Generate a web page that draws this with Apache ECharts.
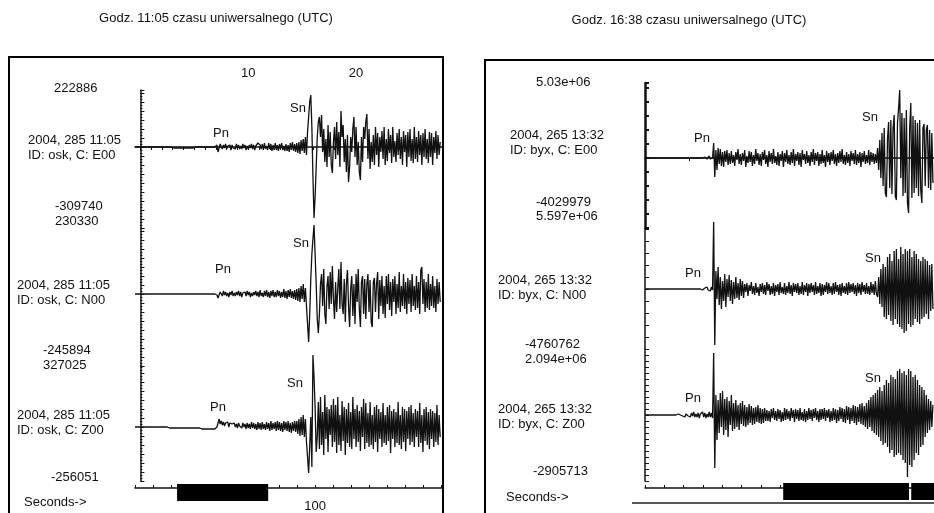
<!DOCTYPE html>
<html><head><meta charset="utf-8">
<script src="https://cdn.jsdelivr.net/npm/echarts@6/dist/echarts.min.js"></script>
<style>html,body{margin:0;padding:0;background:#fff}#c{width:934px;height:513px}</style>
</head><body><div id="c"></div>
<script>
// ---------- text ----------
const titles = ['Godz. 11:05 czasu uniwersalnego (UTC)', 'Godz. 16:38 czasu uniwersalnego (UTC)'];
const leftSideLabels = ['222886', '2004, 285 11:05', 'ID: osk, C: E00', '-309740', '230330',
  '2004, 285 11:05', 'ID: osk, C: N00', '-245894', '327025',
  '2004, 285 11:05', 'ID: osk, C: Z00', '-256051', 'Seconds->'];
const rightSideLabels = ['5.03e+06', '2004, 265 13:32', 'ID: byx, C: E00', '-4029979', '5.597e+06',
  '2004, 265 13:32', 'ID: byx, C: N00', '-4760762', '2.094e+06',
  '2004, 265 13:32', 'ID: byx, C: Z00', '-2905713', 'Seconds->'];
const phaseLabels = ['Pn', 'Sn', 'Pn', 'Sn', 'Pn', 'Sn'];

// ---------- axes ----------
const leftTopTicks = [0,1,2,3,4,5,6,7,8,9,10,11,12,13,14,15,16,17,18,19,20,21,22,23,24,25,26,27,28];
const leftTopTickLabels = [10, 20];
const leftBottomTickLabels = [100];

// ---------- sampling (seconds) ----------
const leftStart = -0.5, leftStep = 0.1;
const rightStart = 0, rightStep = 0.25;

// ---------- traces (scaled amplitude) ----------
const leftE = [
  0,0,0,0,0,0,0,0,0,0, 0,0,0,0,0,0,0,0,0,0, 0,0,0,0,0,0,0,0,0,0, 0,0,0,0,0,
  -1,-1,-1,-1,-1,-1,-1,-1,-1,-1, -1,-1,-1,-1,-1,-1,-1,-1,-1,-1, -1,
  0,0,0,0,0,0,0,0,0,0, 0,0,0,0,0,0,0,0,0,0,
  2,-5,-3,3,
  1,-2,2,-1,3,-2,1,-1,2,-3, 2,-1,1,-2,3,-1,2,-2,1,-2, 3,-1,2,-3,1,-2,2,-1,3,-2,
  2,-3,1,-1,4,3,2,-2,3,-3, 4,-2,1,-3,4,-2,3,-4,2,-3, 4,-3,2,-4,3,-2,4,-3,1,-4,
  3,-4,2,-5,4,-3,5,-4,3,-5,
  4,-6,5,-7,7,-4,8,-6,10,-8, 15,30,45,52,20,-30,-71,-50,-20,10, 25,30,10,
  32,-5,18,-15,8,-20,22,-10,15,-18, -26,5,20,-12,25,-8,15,-20,36,10,
  22,-15,8,-25,12,-35,-20,10,-5,18, 30,-10,20,-18,5,-25,-33,10,-15,20,
  8,25,33,-12,18,-22,5,-15,12,-18, 20,-8,14,-20,10,-5,16,-12,20,-18,
  8,-14,18,-6,12,-16,20,-10,6,-15, 14,-8,18,-12,10,-18,16,-5,12,-20,
  15,-10,18,-14,8,-16,20,-12,10,-15, 16,-8,12,-18,14,-10,18,-12,8,-16,
  15,-10,14,-18,10,-6,16,-12,12,-8,5
];
const leftN = [
  0,0,0,0,0,0,0,0,0,0, 0,0,0,0,0,0,0,0,0,0, 0,0,0,0,0,0,0,0,0,0, 0,0,0,0,0,0,0,0,0,0,
  0,0,0,0,0,0,0,0,0,0, 0,0,0,0,0,0,0,0,0,0, 0,0,0,0,0,0,0,0,0,0, 0,0,0,0,0,0,
  -1,-4,-2,2,
  1,-2,3,-1,2,-2,1,-3,2,-1, 3,-2,1,-2,2,-1,3,-2,2,-3, 1,-1,2,-2,3,-1,2,-3,1,-2,
  2,-1,3,-2,2,-3,4,-2,1,-3, 3,-2,4,-3,2,-4,3,-2,4,-3, 2,-3,4,-2,3,-4,2,-3,5,-4,
  3,-5,4,-3,5,-4,3,-5,4,-6,
  5,-7,6,-8,8,-5,10,-8,6,-12, -30,-48,-20,15,40,55,69,40,10,-25, -39,-20,10,
  20,-12,25,-20,-30,8,18,-15,22,-10, 28,-5,-25,12,-18,5,25,-15,32,-10,
  -20,15,-28,10,24,-12,-33,5,18,-22, 10,-30,20,-8,25,-15,-33,12,18,-20,
  15,-25,10,20,-18,14,-28,-33,12,16, -18,10,22,-25,14,-12,18,-20,8,-24,
  18,-10,20,-16,12,-22,15,-8,18,-20, 10,-14,22,-18,8,-12,20,-15,12,-20,
  16,-10,14,-18,20,-12,8,-16,18,-14, 12,-20,24,27,-10,15,-18,12,-14,20,
  -16,10,-12,18,-14,8,-18,15,-10,12,-8
];
const leftZ = [
  0,0,0,0,0,0,0,0,0,0, 0,0,0,0,0,0,0,0,0,0, 0,0,0,0,0,0,0,0,0,0, 0,
  -1,-1,-1,-1,-1,-1,-1,-1,-1,-1, -1,-1,-1,-1,-1,-1,-1,-1,-1,-1, -1,-1,-1,-1,-1,-1,-1,-1,-1,-1,
  -2,-2,-2,-2,-2,-2,-2,-2,-2,-2, -2,-2,-2,-2,-2,
  0,4,8,3,
  6,2,5,1,4,3,5,0,4,2, 3,1,4,0,3,-1,4,1,3,-1, 4,0,3,-2,4,-1,3,-2,5,-1,
  4,-2,3,-3,5,-2,4,-3,5,-2, 3,-3,5,-2,4,-4,6,-3,4,-2, 5,-4,6,-3,5,-4,4,-5,6,-3,
  5,-4,6,-5,4,-6,5,-4,6,-5,
  6,-7,8,-9,10,-8,12,-10,8,-15, -30,-46,-20,10,-40,72,50,20,-25,-10, 25,-22,30,
  -18,15,-28,32,-12,20,-25,18,-8,22, -20,28,-15,22,-26,30,-18,12,-24,26,
  -14,20,-28,18,-16,24,-20,15,-22,30, -12,18,-20,22,-15,16,-24,20,-10,28,
  -22,24,-16,14,-20,25,-18,12,-22,20, -15,22,-25,18,-12,15,-20,24,-16,12,
  -18,20,-14,22,-26,16,-12,18,-20,15, -16,25,-18,12,-22,20,-15,18,-24,16,
  -12,20,-18,22,-15,14,-20,18,-10,16, -20,24,-16,12,-25,18,-14,20,-18,15,
  -22,18,-12,16,-20,14,-15,22,-18,12,-10
];
const rightE = [
  0,0,0,0,0,0,0,0,0,0, 0,0,0,0,0,0,0,0,0,0, 0,0,0,0,0,0,0,0,0,0, 0,0,0,0,0,0,0,0,0,0, 0,0,0,0,0,0,0,0,0,0,
  0,1,0,-1,1,0,-1,1,2,-1,1,0,
  15,-19,8,-12,10,-6,9,-8,6,-9,7,-4,8,-7,5,-6,
  7,-5,3,-8,6,-2,9,-6,4,-7, 5,-3,8,-9,2,-5,7,-4,6,-8, 3,-6,9,-3,5,-7,4,-8,6,-2,
  8,-6,3,-9,7,-4,5,-6,9,-5, 2,-7,6,-8,4,-3,7,-9,5,-4, 8,-6,3,-7,6,-5,9,-8,4,-3,
  6,-7,5,-9,8,-2,4,-6,7,-5, 3,-8,6,-4,9,-7,5,-3,6,-8, 4,-6,8,-5,3,-9,7,-4,5,-7,
  6,-3,8,-6,4,-8,5,-5,7,-4, 9,-6,3,-7,6,-5,4,-8,7,-3, 5,-6,8,-7,4,-5,6,-9,5,-4,
  7,-6,3,-5,8,-7,6,-4,5,-6, 4,-5,
  10,-12,18,-20,25,-28,30,-35,-39,20, 36,-30,38,-36,30,43,-38,-42,35,50,
  68,-20,45,-38,40,-35,48,-45,-55,30, 55,-40,42,-35,38,-30,35,-38,38,-32,
  -45,30,34,-28,28,33,-30,28,-32,25, -25
];
const rightN = [
  0,0,0,0,0,0,0,0,0,0, 0,0,0,0,0,0,0,0,0,0, 0,0,0,0,0,0,0,0,0,0, 0,0,0,0,0,0,0,0,0,0, 0,0,0,0,0,0,0,0,0,0,
  0,1,-1,0,1,-1,2,-1,1,-2,2,-1,
  67,-56,
  18,-10,22,-16,12,-20,8,-12,15,-18, 10,-8,14,-12,9,-15,7,-10,12,-9, 6,-11,10,-7,8,-9,
  5,-3,6,-7,4,-2,7,-5,3,-6, 6,-4,2,-7,5,-3,6,-5,4,-6, 7,-2,5,-6,3,-5,6,-7,4,-3,
  5,-6,7,-4,2,-5,6,-6,3,-4, 7,-5,4,-7,6,-3,5,-4,6,-6, 3,-5,7,-6,4,-3,6,-7,5,-4,
  6,-3,4,-6,7,-5,3,-4,6,-7, 5,-6,4,-3,7,-5,6,-4,3,-6, 6,-5,7,-3,4,-6,5,-7,6,-4,
  3,-5,6,-6,7,-4,5,-3,6,-5, 4,-7,6,-4,5,-6,7,-3,4,-5, 6,-5,3,-6,7,-4,5,-6,8,-5,
  -8,12,-15,20,-18,25,-28,22,-30,32, -26,35,-32,28,-36,38,-30,40,-35,30,
  -38,42,-40,35,-44,40,-42,38,-35,40, -38,32,-36,38,-30,35,-33,30,-35,28,
  -30,32,-28,30,-25,28,-30,24,-22,25, -20
];
const rightZ = [
  0,0,0,0,0,0,0,0,0,0, 0,0,0,0,0,0,0,0,0,0, 0,0,0,0,0,0,0,0,0,0,
  1,-1,0,2,-1,1,-2,1,2,-1, 1,-2,2,-1,3,-2,1,-2,2,-3, 1,-1,3,-2,2,-3,1,-2,3,-2, 2,-3,
  62,-53,
  20,-25,15,-18,22,-12,24,-20,16,-15, 18,-22,14,-10,20,-16,12,-14,15,-12,
  10,-15,12,-9,14,-11,10,-12,8,-10, 11,-8,9,-10,7,-9,8,-7,10,-8, 7,-9,6,-8,7,-6,
  5,-6,4,-7,6,-3,7,-5,4,-6, 6,-4,5,-7,3,-6,7,-5,6,-4, 4,-6,7,-3,5,-7,6,-4,5,-6,
  7,-5,3,-6,6,-7,4,-5,7,-4, 5,-6,6,-3,7,-5,4,-7,6,-5, 6,-4,7,-6,5,-3,6,-7,4,-6,
  7,-5,6,-8,5,-6,8,-4,7,-7, 6,-8,9,-5,8,-9,7,-6,10,-8, 9,-10,8,-7,11,-9,12,-10,9,-12,
  12,-14,15,-12,18,-16,20,-18,22,-20, 25,-22,28,-26,24,-30,30,-28,35,-32,
  32,-38,40,-35,38,-42,36,-40,44,-38, 46,-40,42,-45,44,-48,40,-62,46,-50,
  44,-52,38,-45,40,-38,35,-40,30,-32, 28,-30,25,-22,20,-18,16,-15,14,-12, 10
];

// time-window bars (seconds)
const leftBar = [3.4, 11.85];
const rightBars = [[31.2, 59.6], [60.1, 65.3]];

// ---------- build ----------
function pairs(vals, t0, dt) { return vals.map((v, i) => [+(t0 + i * dt).toFixed(3), v]); }
const FONT = '13px "Liberation Sans", Arial, sans-serif';
const INK = '#111';

const grids = [
  {left:135, top:90,  width:308, height:138},
  {left:135, top:228, width:308, height:138},
  {left:135, top:366, width:308, height:115},
  {left:135, top:484, width:308, height:17},
  {left:645, top:83,  width:289, height:145},
  {left:645, top:228, width:289, height:121},
  {left:645, top:349, width:289, height:132},
  {left:645, top:483, width:289, height:17}
];

const hiddenX = (g, min, max) => ({gridIndex:g, type:'value', min, max, show:false});
const xAxes = [
  {gridIndex:0, type:'value', position:'top', min:-0.5, max:28.06,
   axisLine:{show:true, lineStyle:{color:INK, width:1.5}},
   axisTick:{show:true, inside:true, length:3, customValues:leftTopTicks, lineStyle:{color:INK}},
   axisLabel:{show:true, customValues:leftTopTickLabels, margin:10, color:INK, fontSize:13, fontFamily:'Liberation Sans'},
   splitLine:{show:false}},
  hiddenX(1, -0.5, 28.06),
  hiddenX(2, -0.5, 28.06),
  {gridIndex:2, type:'value', position:'bottom', offset:7, min:90, max:107.1, interval:1,
   axisLine:{show:true, lineStyle:{color:INK, width:1.5}},
   axisTick:{show:true, inside:true, length:3, lineStyle:{color:INK}},
   axisLabel:{show:true, margin:12, color:INK, fontSize:13, fontFamily:'Liberation Sans',
     formatter: v => leftBottomTickLabels.includes(v) ? String(v) : ''},
   splitLine:{show:false}},
  hiddenX(3, -0.5, 28.06),
  {gridIndex:4, type:'value', position:'top', min:0, max:65.24, interval:10,
   axisLine:{show:true, lineStyle:{color:INK, width:1.5}},
   axisTick:{show:true, inside:true, length:3, lineStyle:{color:INK}},
   axisLabel:{show:false}, splitLine:{show:false}},
  hiddenX(5, 0, 65.24),
  hiddenX(6, 0, 65.24),
  {gridIndex:6, type:'value', position:'bottom', offset:7, min:0, max:14.97, interval:1,
   axisLine:{show:true, lineStyle:{color:INK, width:1.5}},
   axisTick:{show:true, inside:true, length:3, lineStyle:{color:INK}},
   axisLabel:{show:false}, splitLine:{show:false}},
  hiddenX(7, 0, 65.24)
];

const yAx = (g, min, max, interval, lw, minor) => ({
  gridIndex:g, type:'value', min, max, interval, offset:9, position:'left',
  axisLine:{show:true, lineStyle:{color:INK, width:lw}},
  axisTick:{show:true, inside:true, length:4, lineStyle:{color:INK, width:lw > 2 ? 2 : 1}},
  minorTick:{show:minor, splitNumber:3, length:2, lineStyle:{color:INK}},
  axisLabel:{show:false}, splitLine:{show:false}
});
const yAxes = [
  yAx(0, -81, 57, 9, 1.5, true),
  yAx(1, -72, 66, 9, 1.5, true),
  yAx(2, -54, 61, 9, 1.5, true),
  {gridIndex:3, type:'value', min:0, max:1, show:false},
  yAx(4, -70, 75, 14, 2.5, false),
  yAx(5, -60, 61, 12, 1.5, false),
  yAx(6, -66, 66, 6, 1.5, false),
  {gridIndex:7, type:'value', min:0, max:1, show:false}
];

const trace = (vals, t0, dt, xi, yi) => ({
  type:'line', xAxisIndex:xi, yAxisIndex:yi, data:pairs(vals, t0, dt),
  showSymbol:false, symbol:'none', clip:false, sampling:null, silent:true,
  lineStyle:{color:INK, width:1.3}, z:3
});
const barSeries = (xi, yi, ranges) => ({
  type:'line', xAxisIndex:xi, yAxisIndex:yi, data:[], showSymbol:false, silent:true, z:5,
  markArea:{silent:true, itemStyle:{color:'#000', opacity:1},
    data: ranges.map(r => [{xAxis:r[0]}, {xAxis:r[1]}])}
});

const series = [
  trace(leftE, leftStart, leftStep, 0, 0),
  trace(leftN, leftStart, leftStep, 1, 1),
  trace(leftZ, leftStart, leftStep, 2, 2),
  barSeries(4, 3, [leftBar]),
  trace(rightE, rightStart, rightStep, 5, 4),
  trace(rightN, rightStart, rightStep, 6, 5),
  trace(rightZ, rightStart, rightStep, 7, 6),
  barSeries(9, 7, rightBars)
];

// layout of texts (positions only)
const leftSidePos = [[54,88],[28,140],[28,155],[55,206],[55,221],[17,285],[17,300],[43,350],[43,365],[17,415],[17,430],[51,477],[24,502]];
const rightSidePos = [[536,82],[510,135],[510,150],[536,202],[536,216],[498,280],[498,295],[525,344],[525,359],[498,409],[498,424],[533,471],[506,497]];
const phasePosL = [[213,133],[290,108],[215,269],[293,243],[210,407],[287,383]];
const phasePosR = [[694,138],[862,117],[685,273],[865,258],[685,398],[865,378]];

const txt = (s, p, align) => ({type:'text', x:p[0], y:p[1], silent:true, z:10,
  style:{text:s, font:FONT, fill:INK, textAlign:align || 'left', textVerticalAlign:'middle'}});

const graphic = [
  {type:'rect', shape:{x:9, y:57, width:434, height:480}, silent:true, z:1,
   style:{fill:null, stroke:'#000', lineWidth:2}},
  {type:'rect', shape:{x:485, y:60, width:500, height:480}, silent:true, z:1,
   style:{fill:null, stroke:'#000', lineWidth:2}},
  {type:'line', shape:{x1:632, y1:503, x2:934, y2:503}, silent:true, z:1,
   style:{stroke:'#222', lineWidth:1.5}},
  txt(titles[0], [216,18], 'center'),
  txt(titles[1], [689,20], 'center')
];
leftSideLabels.forEach((s, i) => graphic.push(txt(s, leftSidePos[i])));
rightSideLabels.forEach((s, i) => graphic.push(txt(s, rightSidePos[i])));
phaseLabels.forEach((s, i) => { graphic.push(txt(s, phasePosL[i])); graphic.push(txt(s, phasePosR[i])); });

const chart = echarts.init(document.getElementById('c'), null, {renderer:'canvas'});
chart.setOption({
  animation:false,
  backgroundColor:'#fff',
  grid:grids, xAxis:xAxes, yAxis:yAxes, series, graphic
});
</script></body></html>
